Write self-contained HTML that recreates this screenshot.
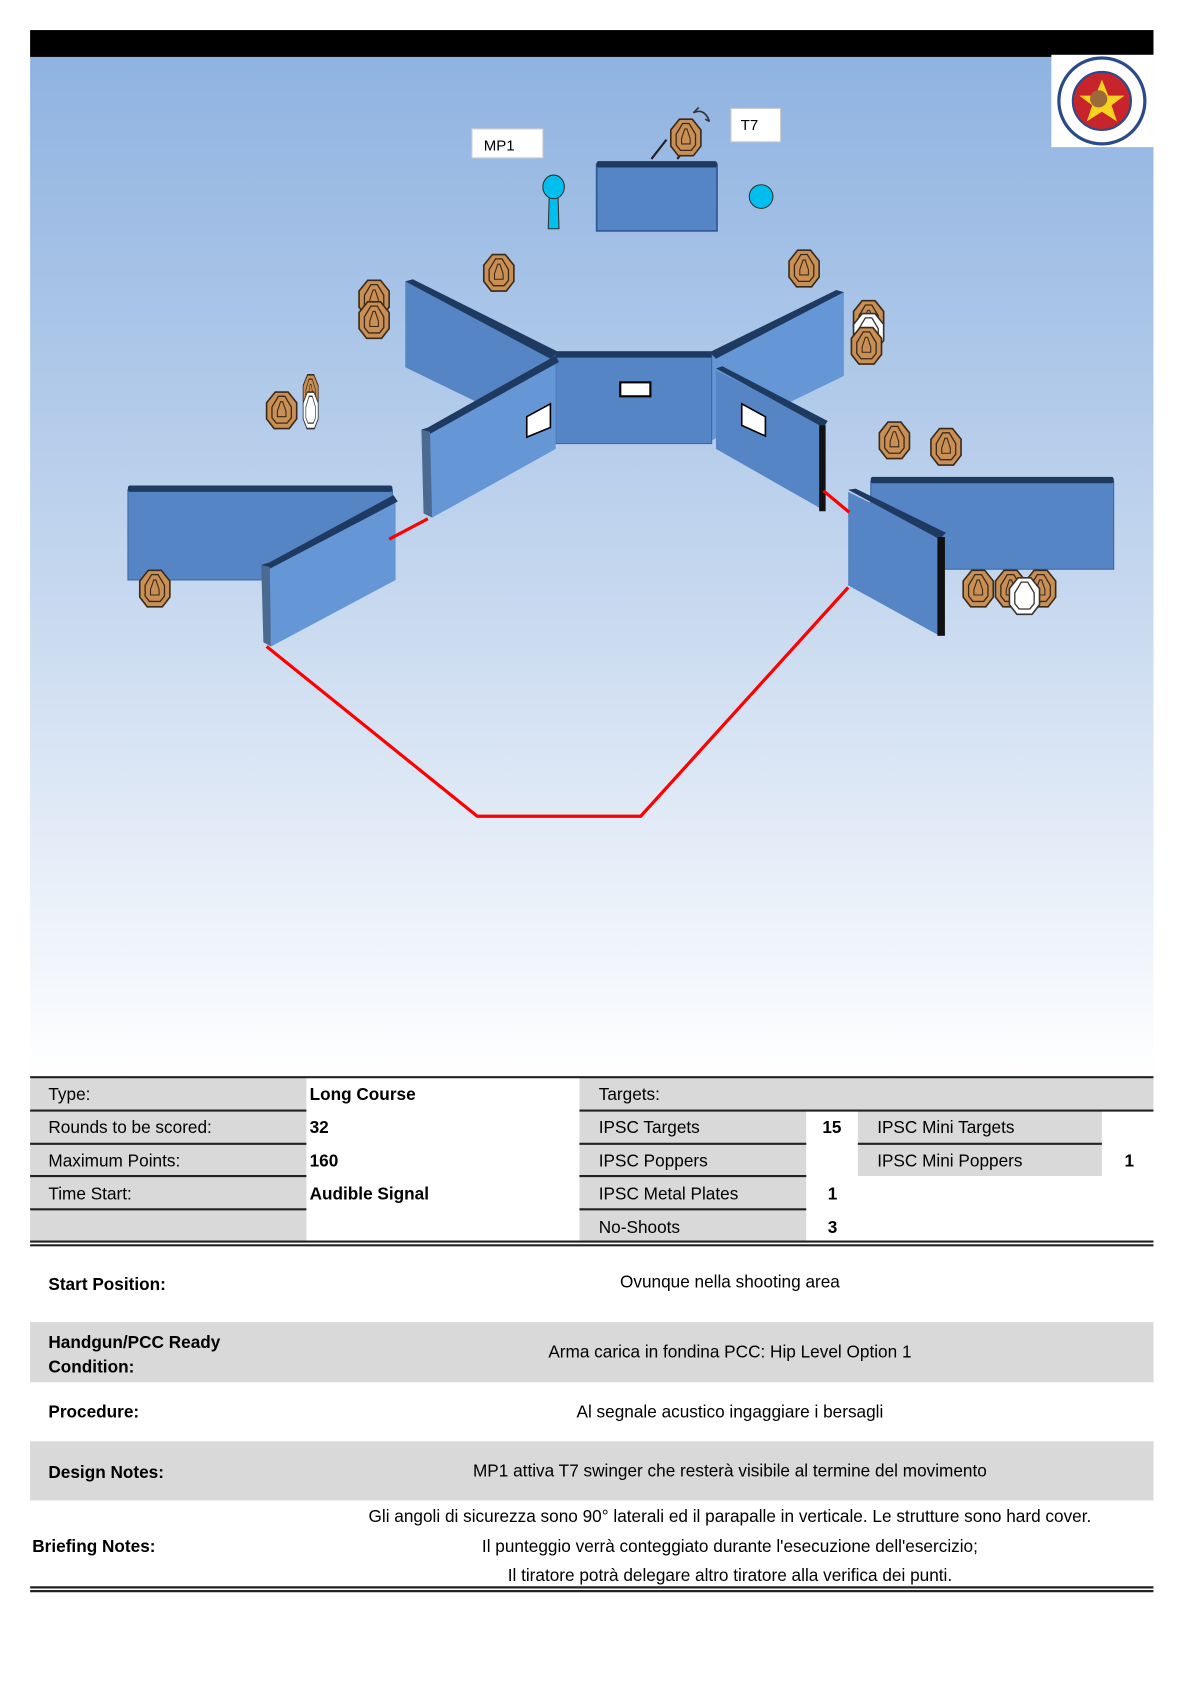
<!DOCTYPE html>
<html><head><meta charset="utf-8"><style>
html,body{margin:0;padding:0;background:#fff;}
svg{display:block;}
text{font-family:"Liberation Sans",sans-serif;}
</style></head><body>
<svg width="1191" height="1684" viewBox="0 0 1191 1684" xmlns="http://www.w3.org/2000/svg">
<defs>
<linearGradient id="bg" x1="0" y1="0" x2="0" y2="1">
<stop offset="0" stop-color="#8fb3e1"/><stop offset="0.5" stop-color="#c3d6ee"/><stop offset="1" stop-color="#ffffff"/>
</linearGradient>
<g id="tg"><path d="M-6,-17 L6,-17 L14,-7 L14,8 L7,17 L-7,17 L-14,8 L-14,-7 Z" fill="#c98f55" stroke="#3a2a1a" stroke-width="1.5"/><path d="M-3,-13 L3,-13 L9,-3 L9,7 L5,12 L-5,12 L-9,7 L-9,-3 Z" fill="none" stroke="#3a2a1a" stroke-width="1.2"/><path d="M-1,-8 L1,-8 L4,1 L4,6 L-4,6 L-4,1 Z" fill="none" stroke="#3a2a1a" stroke-width="1"/></g>
<g id="ns"><path d="M-6,-17 L6,-17 L14,-7 L14,8 L7,17 L-7,17 L-14,8 L-14,-7 Z" fill="#fff" stroke="#333" stroke-width="1.5"/><path d="M-3,-13 L3,-13 L9,-3 L9,7 L5,12 L-5,12 L-9,7 L-9,-3 Z" fill="none" stroke="#333" stroke-width="1.2"/></g>
</defs>
<g transform="matrix(1.075 0 0 1.074 0 0)">
<rect x="28" y="53" width="1045" height="950" fill="url(#bg)"/>
<rect x="28" y="28" width="1045" height="25" fill="#000"/>
<rect x="978" y="51" width="95" height="86" fill="#fff"/>
<circle cx="1025" cy="94" r="40" fill="#fff" stroke="#2b4a8a" stroke-width="3"/>
<circle cx="1025" cy="94" r="27" fill="#c8242b" stroke="#2b4a8a" stroke-width="2"/>
<path d="M1025,74 L1031,89 L1046,89 L1034,98 L1039,113 L1025,104 L1011,113 L1016,98 L1004,89 L1019,89Z" fill="#f5d31e"/>
<circle cx="1022" cy="92" r="8" fill="#9a6a3a"/>
<rect x="439" y="120" width="66" height="27" fill="#fff" stroke="#ccc"/>
<text x="450" y="140" font-size="14">MP1</text>
<rect x="680" y="101" width="46" height="31" fill="#fff" stroke="#ccc"/>
<text x="689" y="121" font-size="14">T7</text>
<rect x="555" y="153" width="112" height="62" fill="#5585c5" stroke="#2f5590" stroke-width="1.5"/>
<rect x="555" y="150" width="112" height="6" fill="#1f3a60" rx="2"/>
<path d="M606,148 L620,130 M630,148 L640,135" stroke="#222" stroke-width="2"/>
<use href="#tg" x="638" y="128"/>
<path d="M645,105 q10,-5 15,8 M660,113 l-4,-2 M650,100 l-5,5" stroke="#333" fill="none" stroke-width="1.5"/>
<path d="M511,180 L519,180 L520,213 L510,213 Z" fill="#00bfef" stroke="#333"/>
<ellipse cx="515" cy="174" rx="10" ry="11" fill="#00bfef" stroke="#333"/>
<circle cx="708" cy="183" r="11" fill="#00bfef" stroke="#333"/>
<polygon points="377,262 517,330 517,410 377,342" fill="#5585c5"/>
<polygon points="377,262 384,260 520,328 512,334" fill="#1f3a60"/>
<polygon points="785,272 662,330 662,410 785,350" fill="#6596d6"/>
<polygon points="785,272 778,270 660,328 666,334" fill="#1f3a60"/>
<rect x="517" y="331" width="145" height="82" fill="#5585c5" stroke="#3d68a5"/>
<rect x="517" y="327" width="145" height="6" fill="#1f3a60"/>
<rect x="577" y="356" width="28" height="13" fill="#fff" stroke="#000" stroke-width="2"/>
<polygon points="398,400 517,333 517,418 402,482" fill="#6596d6"/>
<polygon points="392,400 398,398 517,331 520,337 400,404" fill="#1f3a60"/>
<polygon points="392,400 400,402 402,482 394,478" fill="#4a6a90"/>
<polygon points="490,388 512,376 512,398 490,407" fill="#fff" stroke="#000" stroke-width="1.5"/>
<polygon points="666,345 768,396 768,476 666,418" fill="#5585c5"/>
<polygon points="666,343 672,341 770,392 766,398" fill="#1f3a60"/>
<rect x="762" y="396" width="6" height="80" fill="#111"/>
<polygon points="690,376 712,388 712,406 690,396" fill="#fff" stroke="#000" stroke-width="1.5"/>
<rect x="119" y="456" width="246" height="84" fill="#5585c5" stroke="#3d68a5"/>
<rect x="119" y="452" width="246" height="6" fill="#1f3a60" rx="2"/>
<polygon points="250,526 368,464 368,540 252,602" fill="#6596d6"/>
<polygon points="243,526 250,524 366,461 370,467 250,530" fill="#1f3a60"/>
<polygon points="243,526 251,528 252,602 245,598" fill="#4a6a90"/>
<rect x="810" y="448" width="226" height="82" fill="#5585c5" stroke="#3d68a5"/>
<rect x="810" y="444" width="226" height="6" fill="#1f3a60" rx="2"/>
<polygon points="789,458 874,500 874,592 789,545" fill="#5585c5"/>
<polygon points="789,456 796,455 880,496 874,502" fill="#1f3a60"/>
<rect x="872" y="500" width="7" height="92" fill="#111"/>
<g stroke="#ff0000" stroke-width="3" fill="none">
<path d="M362,502 L398,483"/>
<path d="M248,602 L444,760 L596,760 L789,547"/>
<path d="M766,457 L790,477"/>
</g>
<use href="#tg" x="464" y="254"/><use href="#tg" x="348" y="278"/><use href="#tg" x="348" y="298"/>
<use href="#tg" x="262" y="382"/><use href="#tg" x="748" y="250"/><use href="#tg" x="808" y="297"/>
<use href="#ns" x="808" y="309"/><use href="#tg" x="806" y="322"/>
<use href="#tg" x="832" y="410"/><use href="#tg" x="880" y="416"/><use href="#tg" x="144" y="548"/>
<use href="#tg" x="910" y="548"/><use href="#tg" x="940" y="548"/><use href="#tg" x="968" y="548"/>
<use href="#ns" x="953" y="555"/>
<g transform="translate(289,372) scale(0.5,1)"><use href="#tg" x="0" y="-6"/><use href="#ns" x="0" y="10"/></g>
<g font-size="16">
<rect x="28" y="1003" width="257" height="153" fill="#d9d9d9"/>
<rect x="539" y="1003" width="534" height="30" fill="#d9d9d9"/>
<rect x="539" y="1033" width="211" height="123" fill="#d9d9d9"/>
<rect x="798" y="1033" width="227" height="62" fill="#d9d9d9"/>
<g stroke="#222" stroke-width="2">
<line x1="28" y1="1003" x2="1073" y2="1003"/>
<line x1="28" y1="1034" x2="285" y2="1034"/><line x1="539" y1="1034" x2="1073" y2="1034"/>
<line x1="28" y1="1065" x2="285" y2="1065"/><line x1="539" y1="1065" x2="750" y2="1065"/><line x1="798" y1="1065" x2="1025" y2="1065"/>
<line x1="28" y1="1095" x2="285" y2="1095"/><line x1="539" y1="1095" x2="750" y2="1095"/>
<line x1="28" y1="1126" x2="285" y2="1126"/><line x1="539" y1="1126" x2="750" y2="1126"/>
<line x1="28" y1="1156" x2="1073" y2="1156"/><line x1="28" y1="1159.5" x2="1073" y2="1159.5"/>
<line x1="28" y1="1478" x2="1073" y2="1478"/><line x1="28" y1="1481.5" x2="1073" y2="1481.5"/>
</g>
<text x="45" y="1024">Type:</text><text x="45" y="1055">Rounds to be scored:</text>
<text x="45" y="1086">Maximum Points:</text><text x="45" y="1117">Time Start:</text>
<g font-weight="bold"><text x="288" y="1024">Long Course</text><text x="288" y="1055">32</text>
<text x="288" y="1086">160</text><text x="288" y="1117">Audible Signal</text>
<text x="765" y="1055">15</text><text x="1046" y="1086">1</text><text x="770" y="1117">1</text><text x="770" y="1148">3</text></g>
<text x="557" y="1024">Targets:</text><text x="557" y="1055">IPSC Targets</text><text x="557" y="1086">IPSC Poppers</text>
<text x="557" y="1117">IPSC Metal Plates</text><text x="557" y="1148">No-Shoots</text>
<text x="816" y="1055">IPSC Mini Targets</text><text x="816" y="1086">IPSC Mini Poppers</text>
<rect x="28" y="1231" width="1045" height="56" fill="#d9d9d9"/>
<rect x="28" y="1342" width="1045" height="55" fill="#d9d9d9"/>
<g font-weight="bold"><text x="45" y="1201">Start Position:</text><text x="45" y="1255">Handgun/PCC Ready</text>
<text x="45" y="1278">Condition:</text><text x="45" y="1320">Procedure:</text><text x="45" y="1376">Design Notes:</text>
<text x="30" y="1445">Briefing Notes:</text></g>
<g text-anchor="middle"><text x="679" y="1199">Ovunque nella shooting area</text>
<text x="679" y="1264">Arma carica in fondina PCC: Hip Level Option 1</text>
<text x="679" y="1320">Al segnale acustico ingaggiare i bersagli</text>
<text x="679" y="1375">MP1 attiva T7 swinger  che resterà visibile al termine del movimento</text>
<text x="679" y="1417">Gli angoli di sicurezza sono 90° laterali ed il parapalle in verticale. Le strutture sono hard cover.</text>
<text x="679" y="1445">Il punteggio verrà conteggiato durante l'esecuzione dell'esercizio;</text>
<text x="679" y="1472">Il tiratore potrà delegare altro tiratore alla verifica dei punti.</text></g>
</g>
</g>
</svg>
</body></html>
